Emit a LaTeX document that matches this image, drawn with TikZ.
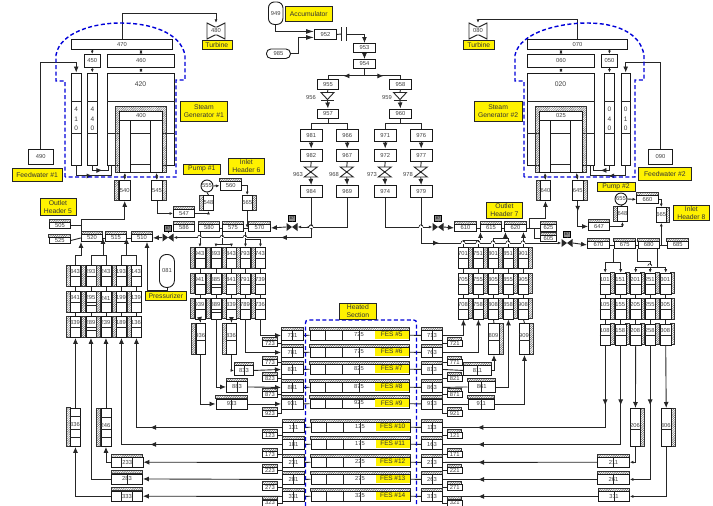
\documentclass[tikz,border=0pt]{standalone}
\usepackage{fontspec}
\setmainfont{Liberation Sans}
\usetikzlibrary{arrows.meta,calc,patterns.meta,decorations.markings}

\tikzset{
  bigtip/.tip={Latex[length=6pt,width=5pt]},
  smalltip/.tip={Latex[length=3.5pt,width=3pt]},
  flow/.style={line width=0.9pt,draw=black!85},
  big/.style={flow,-{bigtip}},
  small/.style={flow,-{smalltip}},
  tipat/.style={postaction={decorate,decoration={markings,mark=at position #1 with {\arrow{bigtip}}}}},
  cell/.style={draw=black!90,fill=white,line width=0.9pt,inner sep=0pt,text=black!75,font=\fontsize{5.8}{6}\selectfont},
  num/.style={inner sep=0pt,text=black!75,font=\fontsize{5.8}{6}\selectfont},
  capsule/.style={cell,rounded corners=6pt,anchor=north west},
  hatchfill/.style={draw=black!80,line width=0.6pt,pattern={Lines[angle=45,distance=1.6pt,line width=0.5pt]},pattern color=black!60},
  tagbox/.style={draw=black!85,fill=yellow,line width=0.7pt,inner sep=0pt,align=center,anchor=north west,text=black!80,font=\fontsize{6.8}{8}\selectfont},
  dash blue/.style={draw=blue!85!black,line width=1.4pt,dash pattern=on 4pt off 2.5pt}
}

\newcommand{\boxplain}[6]{\node[cell,anchor=north west,minimum width=#4pt,minimum height=#5pt] (#1) at (#2,#3) {#6};}
\newcommand{\boxtop}[6]{%
  \draw[hatchfill] (#2,#3) rectangle (#2+#4,#3+3);
  \node[cell,anchor=north west,minimum width=#4pt,minimum height=#5pt-3pt] (#1) at (#2,#3+3) {#6};}
\newcommand{\boxleft}[6]{%
  \draw[hatchfill] (#2-4,#3) rectangle (#2,#3+#5);
  \node[cell,anchor=north west,minimum width=#4pt,minimum height=#5pt] (#1) at (#2,#3) {#6};}
\newcommand{\boxright}[6]{%
  \draw[hatchfill] (#2+#4,#3) rectangle (#2+#4+3.8,#3+#5);
  \node[cell,anchor=north west,minimum width=#4pt,minimum height=#5pt] (#1) at (#2,#3) {#6};}
\newcommand{\divline}[2]{\draw[flow,line width=0.6pt] ($(#1.north west)+(0,#2)$) -- ($(#1.north east)+(0,#2)$);}
\newcommand{\vmid}[1]{\draw[flow,line width=0.6pt] (#1.north) -- (#1.south);}
\newcommand{\colleft}[7][7]{%
  \boxleft{#2}{#3}{#4}{#5}{#6}{}
  \divline{#2}{#1+4.5}
  \node[num] (#2t) at (#3+#5/2,#4+#1) {#7};}
\newcommand{\colright}[7][7]{%
  \boxright{#2}{#3}{#4}{#5}{#6}{}
  \divline{#2}{#1+4.5}
  \node[num] (#2t) at (#3+#5/2,#4+#1) {#7};}
\newcommand{\hop}[2]{%
  \draw[white,line width=1.2pt] (#1-2,#2) -- (#1+2,#2);
  \draw[flow,line width=0.6pt] (#1-2,#2) .. controls (#1-2,#2-3) and (#1+2,#2-3) .. (#1+2,#2);}
\newcommand{\linevalve}[4]{%
  \node[minimum width=11pt,minimum height=9pt,inner sep=0pt] (#1) at (#2,#3) {};
  \fill[black!85] (#2-5.5,#3-4) -- (#2+5.5,#3+4) -- (#2+5.5,#3-4) -- (#2-5.5,#3+4) -- cycle;
  \node[draw=black,fill=black!45,inner sep=0pt,minimum width=7pt,minimum height=6pt,font=\fontsize{3.8}{4}\selectfont] (#1t) at (#2,#3-9) {#4};
  \draw[flow] (#1t) -- (#1);}
\newcommand{\openvalve}[3]{%
  \node[minimum width=13pt,minimum height=10pt,inner sep=0pt] (#1) at (#2,#3) {};
  \draw[flow,fill=white] (#2-6.5,#3-5) -- (#2+6.5,#3-5) -- (#2-6.5,#3+5) -- (#2+6.5,#3+5) -- cycle;}
\newcommand{\checkvalve}[3]{%
  \node[minimum width=13pt,minimum height=8pt,inner sep=0pt] (#1) at (#2,#3) {};
  \draw[flow,fill=white] (#2-6.5,#3-4) -- (#2+6.5,#3-4) -- (#2,#3+3) -- cycle;
  \draw[flow] (#2-6.5,#3+4) -- (#2+6.5,#3+4);}
\newcommand{\turbine}[4]{%
  \draw[flow,fill=white] (#2-9,#3-8) -- (#2-1,#3-4) -- (#2+1,#3-4) -- (#2+9,#3-8) -- (#2+9,#3+8) -- (#2+1,#3+4) -- (#2-1,#3+4) -- (#2-9,#3+8) -- cycle;
  \node[num,minimum width=10pt,minimum height=16pt] (#1) at (#2,#3) {#4};}
\newcommand{\steamgen}[4]{%
  \begin{scope}[xshift=#2pt]
    \boxplain{#1b}{107}{72.5}{67}{92}{}
    \node[num,font=\fontsize{6.8}{8}\selectfont] (#1bt) at (140.5,84) {#3};
    \divline{#1b}{28.5}
    \divline{#1b}{60.5}
    \draw[hatchfill] (115,106.5) rectangle (166.5,172);
    \draw[flow,fill=white] (119,111) rectangle (162,172);
    \boxplain{#1i}{119}{111}{43}{9}{#4}
    \boxplain{#1cl}{119}{120}{11}{52}{}
    \boxplain{#1cr}{150}{120}{12}{52}{}
    \draw[flow] (#1cl.east |- 0,133) -- (#1cr.west |- 0,133);
    \draw[flow] (#1cl.east |- 0,164) -- (#1cr.west |- 0,164);
  \end{scope}}

\begin{document}
\begin{tikzpicture}[x=1pt,y=-1pt]
\useasboundingbox (0,0) rectangle (713,506);

% ---- steam generators ----
\steamgen{sgA}{0}{420}{400}
\steamgen{sgB}{420}{020}{025}

\boxplain{n470}{71}{38.5}{101}{10.5}{470}
\boxplain{n450}{84}{54}{15.5}{13}{450}
\boxplain{n460}{107}{54}{67}{13}{460}
\boxplain{n070}{527}{38.5}{100}{10.5}{070}
\boxplain{n060}{527}{54}{67}{13}{060}
\boxplain{n050}{601}{54}{16}{13}{050}
\foreach \nm/\cx/\bw in {n410/71/9.5,n440/87/10,n040/604/10,n010/620.5/9.5} {
  \boxplain{\nm}{\cx}{72.5}{\bw}{92}{}
  \divline{\nm}{28.5}
  \divline{\nm}{60.5}
}
\node[num,align=center,font=\fontsize{6.5}{9.3}\selectfont] (n410t) at (n410) {4\\1\\0};
\node[num,align=center,font=\fontsize{6.5}{9.3}\selectfont] (n440t) at (n440) {4\\4\\0};
\node[num,align=center,font=\fontsize{6.5}{9.3}\selectfont] (n040t) at (n040) {0\\4\\0};
\node[num,align=center,font=\fontsize{6.5}{9.3}\selectfont] (n010t) at (n010) {0\\1\\0};
\boxplain{n490}{28}{149}{24.5}{15}{490}
\boxplain{n090}{648}{149}{24}{15}{090}
\turbine{tbA}{216}{31}{480}
\turbine{tbB}{478}{31}{080}

\draw[flow,-{smalltip}] (n470.north) -- ++(0,-25.5) -| (tbA.north);
\draw[flow,-{smalltip}] (n070.north) -- ++(0,-19.5) -| (tbB.north);
\draw[small] (n470.south -| n450.north) -- (n450.north);
\draw[small] (n450.south) -- (n440.north);
\draw[flow,{smalltip}-{smalltip}] (n470.south -| n460.north) -- (n460.north);
\draw[flow,{smalltip}-{smalltip}] (n460.south) -- (sgAb.north);
\draw[flow,{smalltip}-{smalltip}] (n070.south -| n060.north) -- (n060.north);
\draw[flow,{smalltip}-{smalltip}] (n060.south) -- (sgBb.north);
\draw[small] (n070.south -| n050.north) -- (n050.north);
\draw[small] (n050.south) -- (n040.north);
\draw[big] (n490.north) -- ++(0,-87) -| (n410.north);
\draw[big] (n090.north) -- ++(0,-87) -| (n010.north);
\draw[flow,tipat=27pt] (n410.south) -- ++(0,10.5) -| ($(sgAb.south west)+(4,0)$);
\draw[flow,tipat=15pt] (n440.south) -- ++(0,5) -| ($(sgAb.south west)+(1,0)$);
\draw[flow,tipat=28pt] (n010.south) -- ++(0,10.5) -| ($(sgBb.south east)+(-4,0)$);
\draw[flow,tipat=14pt] (n040.south) -- ++(0,5) -| ($(sgBb.south east)+(-1,0)$);

% containment
\draw[dash blue] (65,177) -- (65,81) -- (56,81) -- (56,55) .. controls (60,32) and (95,23) .. (120,23)
  .. controls (150,23) and (180,32) .. (185,55) -- (185,80) -- (176,80) -- (176,177) -- cycle;
\draw[dash blue] (524,177) -- (524,81) -- (515,81) -- (515,55) .. controls (520,32) and (560,23) .. (587,23)
  .. controls (615,23) and (640,32) .. (644,55) -- (644,80) -- (635,80) -- (635,177) -- cycle;

% ---- accumulator train ----
\node[capsule,minimum width=14.5pt,minimum height=22.5pt] (n949) at (268,1.5) {949};
\node[capsule,rounded corners=4.5pt,minimum width=24pt,minimum height=9.5pt] (n985) at (266,48.5) {985};
\boxplain{n952}{314}{29}{22}{10}{952}
\boxplain{n953}{353}{43}{22}{9}{953}
\boxplain{n954}{353}{59}{22}{9}{954}
\boxplain{n955}{317}{79}{21}{9.5}{955}
\boxplain{n958}{389}{79}{22}{9.5}{958}
\checkvalve{v956}{327.5}{96.5}
\checkvalve{v959}{400}{96.5}
\node[num] (l956) at (311,97.5) {956};
\node[num] (l959) at (387,97.5) {959};
\boxplain{n957}{317}{108.5}{21}{9.5}{957}
\boxplain{n960}{389}{108.5}{22}{9.5}{960}

\node[minimum width=5pt,minimum height=13pt,inner sep=0pt] (gap) at (344.2,34) {};
\draw[flow] (gap.north west) -- (gap.south west);
\draw[flow] (gap.north east) -- (gap.south east);
\draw[flow,-{Latex[length=8pt,width=5pt]}] (n949.south) |- ($(n952.west)+(0,-3)$);
\draw[flow,-{Latex[length=8pt,width=5pt]}] (n985.east) -- ++(8,0) |- ($(n952.west)+(0,3)$);
\draw[flow] (n952.east) -- (gap.west);
\draw[big] (gap.east) -| (n953.north);
\draw[big] (n953.south) -- (n954.north);
\draw[flow,tipat=28pt] (n954.south) -- ++(0,7) -| (n955.north);
\draw[flow,tipat=26pt] (n954.south) -- ++(0,7) -| (n958.north);
\draw[flow] (n955.south) -- (v956.north);
\draw[flow] (n958.south) -- (v959.north);
\draw[big] (v956.south) -- (n957.north);
\draw[big] (v959.south) -- (n960.north);

\foreach \k/\x/\a/\b/\c/\vl in {a/300/981/982/984/963,b/336/966/967/969/968,c/374/971/972/974/973,d/410/976/977/979/978} {
  \boxplain{r\k1}{\x}{128.5}{21.5}{12.5}{\a}
  \boxplain{r\k2}{\x}{148.5}{21.5}{12.5}{\b}
  \openvalve{v\k}{\x+10.75}{172}
  \node[num] (l\k) at (\x-2,175) {\vl};
  \boxplain{r\k3}{\x}{185}{21.5}{12}{\c}
  \draw[big] (r\k1.south) -- (r\k2.north);
  \draw[flow] (r\k2.south) -- (v\k.north);
  \draw[big] (v\k.south) -- (r\k3.north);
}
\draw[flow] (n957.south) -- ++(0,4.5) -| (ra1.north);
\draw[flow] (n957.south) -- ++(0,4.5) -| (rb1.north);
\draw[flow] (n960.south) -- ++(0,4.5) -| (rc1.north);
\draw[flow] (n960.south) -- ++(0,4.5) -| (rd1.north);

% ---- headers ----
\boxtop{h505}{49}{219}{21}{9}{505}
\boxtop{h525}{48.5}{234}{21.5}{9}{525}
\boxtop{h520}{81}{231}{21}{10}{520}
\boxtop{h515}{105}{231}{21}{10}{515}
\boxtop{h510}{131}{231}{21}{10}{510}
\boxtop{h586}{173}{221}{21}{10}{586}
\boxtop{h580}{198}{221}{21}{10}{580}
\boxtop{h575}{222}{221}{21}{10}{575}
\boxtop{h570}{248}{221}{22}{10}{570}
\boxtop{h610}{454}{221}{22}{10}{610}
\boxtop{h615}{480}{221}{21}{10}{615}
\boxtop{h620}{504}{221}{22}{10}{620}
\boxtop{h625}{540}{221}{16}{10}{625}
\boxtop{h605}{540}{232}{16}{9}{605}
\boxtop{h670}{587}{238}{22}{10}{670}
\boxtop{h675}{613.5}{238}{21.5}{10}{675}
\boxtop{h680}{637.5}{238}{21.5}{10}{680}
\boxtop{h685}{666.5}{238}{21.5}{10}{685}
\boxtop{h547}{173}{206}{21}{11}{547}
\boxtop{h647}{588}{219}{21}{11}{647}
\boxtop{h560}{219.5}{178}{21.5}{11.5}{560}
\boxtop{h660}{636}{192}{22}{11}{660}

% pumps and loop seals
\node[cell,circle,minimum size=12pt] (p555) at (207,186) {555};
\node[cell,circle,minimum size=12pt] (p655) at (621,199) {655};
\boxleft{n540}{118.5}{180}{11.5}{20}{540}
\boxright{n545}{151}{180}{11}{20}{545}
\boxleft{n640}{540}{180}{10}{20}{640}
\boxright{n645}{571.5}{180}{11.5}{20}{645}
\boxleft{n548}{203}{195}{10}{15}{548}
\boxright{n565}{241.5}{195}{10.5}{15}{565}
\boxleft{n648}{617}{206}{10}{15}{648}
\boxright{n665}{656}{207}{9.5}{15}{665}
\node[capsule,rounded corners=7pt,minimum width=15pt,minimum height=33pt] (n081) at (159,254) {081};

\draw[flow,{smalltip}-{smalltip}] (sgAcl.south) -- (n540.north);
\draw[flow,{smalltip}-{smalltip}] (sgAcr.south) -- (n545.north);
\draw[flow,{smalltip}-{smalltip}] (sgBcl.south) -- (n640.north);
\draw[flow,{smalltip}-{smalltip}] (sgBcr.south) -- (n645.north);
\draw[small] (n545.south) |- (h547.west);
\draw[small] (h547.east) -| (n548.south);
\draw[flow] (n548.north) -- (p555.south);
\draw[small] (p555.east) -- (h560.west);
\draw[small] (h560.east) -| (n565.north);
\draw[small] (n565.south) -- (n565.south |- h570.west);
\draw[big,tipat=-25pt] (n645.south) |- (h647.west);
\draw[small] (h647.east) -| (n648.south);
\draw[flow] (n648.north) -- (p655.south);
\draw[small] (p655.east) -- (h660.west);
\draw[small] (h660.east) -| (n665.north);
\draw[small] (h680.east) -| (n665.south);

\draw[big] (h520.north west) -- ++(0,-15) -| (n540.south);
\draw[flow] (h505.east) -| (h520.west);
\draw[flow] (h525.east) -- (h520.west);
\draw[flow] (h520.east) -- (h515.west);
\draw[flow] (h515.east) -- (h510.west);
\draw[flow] (h580.east) -- (h575.west);
\draw[flow] (h575.east) -- (h570.west);
\draw[flow] (h610.east) -- (h615.west);
\draw[flow] (h615.east) -- (h620.west);
\draw[flow] (h620.east) -- (h625.west);
\draw[flow] (h620.east) -- ++(8,0) |- (h605.west);
\draw[big] (h620.east) -- ++(3,0) -- ++(0,-10) -| (n640.south);
\draw[flow] (h670.east) -- (h675.west);
\draw[flow] (h675.east) -- (h680.west);
\draw[flow] (h680.east) -- (h685.west);
\draw[big] (n081.south) -- ++(0,3) -| ($(h510.south west)+(16,0)$);

% ---- isolation valves ----
\linevalve{vlA}{168}{237.5}{87}
\linevalve{vlB}{292}{227}{87}
\linevalve{vlC}{438}{227}{87}
\linevalve{vlD}{567}{243}{87}
\draw[small,tipat=70pt] (rb3.south) |- (vlB.east);
\draw[small,tipat=70pt] (ra3.south) |- (vlA.east);
\draw[big] (vlA.west) -- (h510.east);
\draw[big] (vlB.west) -- (h570.east);
\draw[small] (rc3.south) |- (vlC.west);
\draw[small,tipat=63pt] (rd3.south) |- (vlD.west);
\draw[big] (vlC.east) -- (h610.west);
\draw[big] (vlD.east) -- (h670.west);
\hop{311}{227}
\hop{421}{227}

% ---- channel banks ----
\foreach \k/\cx/\a/\b/\c in {1/70/343/341/339,2/85.5/293/295/289,3/100.5/243/241/239,4/116/193/199/189,5/131/143/139/136} {
  \colleft{ol\k a}{\cx}{265}{10}{21}{\a}
  \colleft{ol\k b}{\cx}{291}{10}{21}{\b}
  \colleft{ol\k c}{\cx}{316}{10}{21}{\c}
  \draw[flow] (ol\k a.south) -- (ol\k b.north);
  \draw[flow] (ol\k b.south) -- (ol\k c.north);
}
\foreach \k/\cx/\a/\b/\c in {1/194.5/943/941/939,2/210.5/893/885/889,3/226/843/841/839,4/240/793/791/789,5/255/743/739/736} {
  \colleft{ml\k a}{\cx}{247}{10}{21}{\a}
  \colleft{ml\k b}{\cx}{273}{10}{20.5}{\b}
  \colleft{ml\k c}{\cx}{298}{10}{20.5}{\c}
  \draw[flow] (ml\k a.south) -- (ml\k b.north);
  \draw[flow] (ml\k b.south) -- (ml\k c.north);
}
\foreach \k/\cx/\a/\b/\c in {1/458/701/705/708,2/473/751/755/758,3/488/801/805/808,4/503/851/855/858,5/518/901/905/908} {
  \colright{mr\k a}{\cx}{247}{10}{21}{\a}
  \colright{mr\k b}{\cx}{273}{10}{20.5}{\b}
  \colright{mr\k c}{\cx}{298}{10}{20.5}{\c}
  \draw[flow] (mr\k a.south) -- (mr\k b.north);
  \draw[flow] (mr\k b.south) -- (mr\k c.north);
}
\foreach \k/\cx/\a/\b/\c in {1/599.5/101/105/108,2/615/151/155/158,3/630/201/205/208,4/644.5/251/255/258,5/660/301/305/308} {
  \colright{ir\k a}{\cx}{272.7}{10.5}{20.8}{\a}
  \colright{ir\k b}{\cx}{298}{10.5}{21}{\b}
  \colright{ir\k c}{\cx}{323.5}{10.5}{21}{\c}
  \draw[flow] (ir\k a.south) -- (ir\k b.north);
  \draw[flow] (ir\k b.south) -- (ir\k c.north);
}
\divline{ol2b}{14}
\divline{ol2c}{14}
\divline{ml2b}{14}
\divline{ml2c}{14}

% header branches, left
\coordinate (jA) at ($(ol2a.north)+(12,-10)$);
\coordinate (jB) at ($(ol4a.north)+(5,-10)$);
\draw[big] (ol1a.north) -- ++(0,-10) -| (h520.south west);
\draw[flow] (ol2a.north) -- ++(0,-10) -| (ol3a.north);
\draw[flow] (ol4a.north) -- ++(0,-10) -| (ol5a.north);
\draw[big] (jA) -- (jA |- h515.west);
\draw[big] (jB) -- (jB |- h510.west);
\draw[small] (ml1a.north |- h580.south) -- (ml1a.north);
\draw[flow] (h575.south west) -- ++(0,13) coordinate (jC);
\draw[small] (jC) -| (ml2a.north);
\draw[small] (jC) -| (ml3a.north);
\draw[small] (ml4a.north |- h575.south) -- (ml4a.north);
\draw[small] ($(ml4a.north |- h575.south)+(0,8)$) -| (ml5a.north);
\hop{199.5}{237.5}
\hop{222}{237.5}
\hop{245}{237.5}

% header branches, right
\draw[flow] (mr1a.north) -- ++(0,-7) -| (mr2a.north);
\draw[flow] (mr3a.north) -- ++(0,-9) -| (mr4a.north);
\coordinate (jD) at ($(mr2a.north)+(2,-7)$);
\coordinate (jE) at ($(mr3a.north)+(12,-9)$);
\draw[big] (jD) -- (jD |- h615.south);
\draw[big] (jE) -- (jE |- h620.south);
\draw[big] (mr5a.north) -- (mr5a.north |- h620.south);
\foreach \x in {463,478,493,508,523} {
  \hop{\x}{243}
}
\draw[small] (h675.south west) -- ++(0,14) -| (ir1a.north);
\draw[small] (h675.south west) -- ++(0,14) -| (ir2a.north);
\draw[flow] (h680.south west) -- ++(0,13) coordinate (jF);
\draw[small] (jF) -| (ir4a.north);
\draw[flow] (h680.south -| ir4a.north) ++(7,0) -- ++(0,19) coordinate (jG);
\draw[small] (jG) -| (ir3a.north);
\draw[small] (jG) -| (ir5a.north);
\hop{649.8}{266}

% ---- heated section ----
\foreach \ry/\sly/\dx/\fes/\inl/\sml/\mn/\outl/\smr in {
  327/337/0/5/731/723/725/713/721,344/356/0/6/781/773/775/763/771,
  361/372/0/7/831/823/825/813/821,379/388/0/8/881/873/875/863/871,
  395.5/407/0/9/931/923/925/913/921,419/429/1/10/131/123/125/113/121,
  436/448/1/11/181/173/175/163/171,454/464/1/12/231/223/225/213/221,
  471/481/1/13/281/273/275/263/271,488/496.5/1/14/331/323/325/313/321} {
  \boxtop{i\inl}{281+\dx}{\ry}{22}{13}{\inl}
  \boxtop{o\outl}{421}{\ry}{21}{13}{\outl}
  \boxtop{m\mn}{309.5+\dx}{\ry}{99.5}{12.5}{}
  \boxtop{s\sml}{262}{\sly}{15}{9}{\sml}
  \boxtop{s\smr}{447}{\sly}{14.5}{9}{\smr}
  \vmid{i\inl}
  \vmid{o\outl}
  \foreach \vx in {15.5,32.5,49.5} {
    \draw[flow,line width=0.6pt] ($(m\mn.north west)+(\vx,0)$) -- ($(m\mn.south west)+(\vx,0)$);
  }
  \node[num] (t\mn) at (359+\dx,\ry+7.5) {\mn};
  \node[inner sep=0pt,fill=yellow,anchor=north west,minimum width=34pt,minimum height=8pt,text=black!80,font=\fontsize{6.5}{7}\selectfont] (f\fes) at (374.5+\dx,\ry+3.5) {FES \#\fes};
  \draw[flow] (i\inl.east) -- (m\mn.west);
  \draw[flow] (m\mn.east) -- (o\outl.west);
  \draw[flow] (s\sml.east) -| (i\inl.south west);
  \draw[flow] (s\smr.west) -| (o\outl.south east);
}
\draw[dash blue] (305.5,506) -- (305.5,323) .. controls (305.5,321) and (306.5,320) .. (308.5,320) -- (413.5,320)
  .. controls (415.5,320) and (416.5,321) .. (416.5,323) -- (416.5,506);

% ---- transfer pieces, left ----
\colleft[13]{tl936}{195.5}{323}{9.5}{31}{936}
\colleft[13]{tl836}{226}{323}{10}{31}{836}
\colleft[17]{tl336}{70}{407.5}{10}{38.5}{336}
\colleft[17]{tl246}{100.5}{408}{10}{38}{246}
\divline{tl336}{9}
\divline{tl336}{30}
\divline{tl246}{9}
\divline{tl246}{29}
\boxtop{t933}{215.5}{395.5}{31.5}{13}{933}
\boxtop{t883}{226}{378}{21}{14}{883}
\boxtop{t833}{234}{362}{19}{13}{833}
\boxtop{t233}{111}{454}{31.5}{12.5}{233}
\boxtop{t283}{111}{470.5}{31}{13}{283}
\boxtop{t333}{111}{487.5}{31}{13.5}{333}
\vmid{t933}
\vmid{t883}
\vmid{t833}
\vmid{t283}
\foreach \nm in {t233,t333} {
  \draw[flow,line width=0.6pt] ($(\nm.north)+(-5.5,0)$) -- ($(\nm.south)+(-5.5,0)$);
  \draw[flow,line width=0.6pt] ($(\nm.north)+(5.5,0)$) -- ($(\nm.south)+(5.5,0)$);
}
\draw[big] (ml1c.south) -- (tl936.north);
\draw[big] (ml3c.south) -- (tl836.north);
\draw[big] (tl936.south) |- (t933.west);
\draw[small] (tl836.south) |- (t833.west);
\draw[big] (ml2c.south) |- (t883.west);
\draw[big] (ml4c.south) |- (i781.west);
\draw[big] (ml5c.south) |- (i731.west);
\draw[big] (t833.east) -- (i831.west);
\draw[big] (t883.east) -- (i881.west);
\draw[big] (t933.east) -- (i931.west);
\draw[big,tipat=132pt] (i131.west) -| (ol5c.south);
\draw[big,tipat=132pt] (i181.west) -| (ol4c.south);
\draw[big] (i231.west) -- (t233.east);
\draw[big] (i281.west) -- (t283.east);
\draw[big] (i331.west) -- (t333.east);
\draw[big] (t233.west) -| (tl246.south);
\draw[big] (t283.west) -| (ol2c.south);
\draw[big] (t333.west) -| (tl336.south);
\draw[big] (tl336.north) -- (ol1c.south);
\draw[big] (tl246.north) -- (ol3c.south);

% ---- transfer pieces, right ----
\colright[13]{tl809}{488}{323}{11}{31}{809}
\colright[13]{tl909}{519}{323}{10}{31}{909}
\colright[17]{tl206}{630}{408}{10}{38}{206}
\colright[17]{tl306}{660.5}{408}{10.5}{38}{306}
\boxtop{t811}{463}{362}{28}{13}{811}
\boxtop{t861}{467.5}{378}{27.5}{14}{861}
\boxtop{t911}{467.5}{395.5}{26.5}{13}{911}
\boxtop{t211}{597}{454}{32}{12.5}{211}
\boxtop{t261}{597}{471}{32}{13}{261}
\boxtop{t311}{598}{488}{31}{13}{311}
\foreach \nm in {t811,t861,t911,t211,t261,t311} {
  \vmid{\nm}
}
\draw[big] (o713.east) -| (mr1c.south);
\draw[big] (o763.east) -| (mr2c.south);
\draw[flow] (o813.east) -- (t811.west);
\draw[flow] (o863.east) -- (t861.west);
\draw[flow] (o913.east) -- (t911.west);
\draw[big] (t811.east) -| (tl809.south);
\draw[big] (t861.east) -| (mr4c.south);
\draw[big] (t911.east) -| (tl909.south);
\draw[flow] (mr3c.south) -- (tl809.north);
\draw[flow] (mr5c.south) -- (tl909.north);
\draw[flow,tipat=60pt,tipat=210pt] (ir1c.south) |- (o113.east);
\draw[flow,tipat=60pt,tipat=242pt] (ir2c.south) |- (o163.east);
\draw[big] (ir3c.south) -- (tl206.north);
\draw[big] (ir5c.south) -- (tl306.north);
\draw[small] (tl206.south) |- (t211.east);
\draw[small,tipat=60pt] (ir4c.south) |- (t261.east);
\draw[small] (tl306.south) |- (t311.east);
\draw[flow,tipat=119pt] (t211.west) -- (o213.east);
\draw[flow,tipat=119pt] (t261.west) -- (o263.east);
\draw[flow,tipat=120pt] (t311.west) -- (o313.east);

% ---- name tags ----
\node[tagbox,minimum width=30pt,minimum height=9pt] (tagTa) at (201.5,40) {Turbine};
\node[tagbox,minimum width=31pt,minimum height=9pt] (tagTb) at (463,40) {Turbine};
\node[tagbox,minimum width=47pt,minimum height=20pt] (tagSa) at (180,100.5) {Steam\\Generator \#1};
\node[tagbox,minimum width=48.5pt,minimum height=20pt] (tagSb) at (473.5,101) {Steam\\Generator \#2};
\node[tagbox,minimum width=47pt,minimum height=15.5pt] (tagAc) at (285,5.5) {Accumulator};
\node[tagbox,minimum width=50.5pt,minimum height=13pt] (tagFa) at (11.5,168) {Feedwater \#1};
\node[tagbox,minimum width=53pt,minimum height=13pt] (tagFb) at (638,167) {Feedwater \#2};
\node[tagbox,minimum width=37pt,minimum height=9.5pt] (tagPa) at (183,164) {Pump \#1};
\node[tagbox,minimum width=37.5pt,minimum height=9pt] (tagPb) at (597,182) {Pump \#2};
\node[tagbox,minimum width=36pt,minimum height=16pt] (tagH6) at (228,158) {Inlet\\Header 6};
\node[tagbox,minimum width=36pt,minimum height=15pt] (tagH8) at (673,205) {Inlet\\Header 8};
\node[tagbox,minimum width=36pt,minimum height=17pt] (tagH5) at (39.5,198) {Outlet\\Header 5};
\node[tagbox,minimum width=36pt,minimum height=15.5pt] (tagH7) at (486,202) {Outlet\\Header 7};
\node[tagbox,minimum width=41pt,minimum height=9pt] (tagPr) at (145,291) {Pressurizer};
\node[tagbox,minimum width=37pt,minimum height=15.5pt] (tagHs) at (339,303) {Heated\\Section};

\end{tikzpicture}
\end{document}
